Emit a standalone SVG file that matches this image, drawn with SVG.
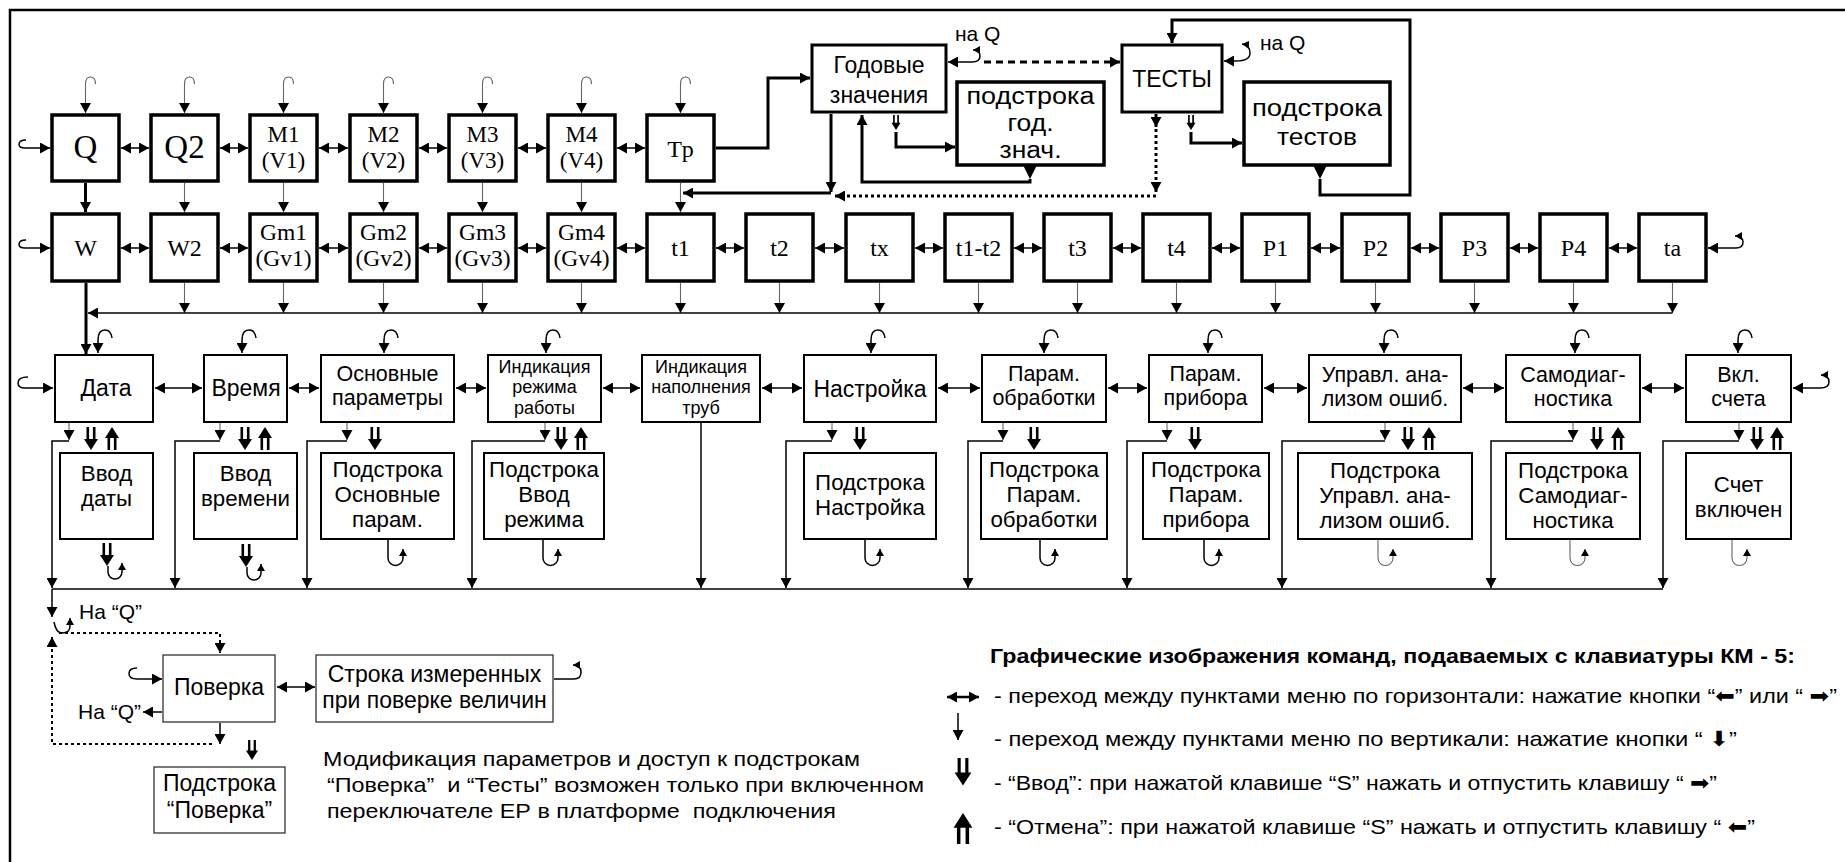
<svg xmlns="http://www.w3.org/2000/svg" xmlns:xlink="http://www.w3.org/1999/xlink" width="1845" height="862" viewBox="0 0 1845 862">
<style>
.b1{fill:#fff;stroke:#000;stroke-width:3.5}
.b2{fill:#fff;stroke:#000;stroke-width:2}
.b3{fill:#fff;stroke:#222;stroke-width:1.2}
.tm{font-family:"Liberation Serif","Times New Roman",serif;text-anchor:middle;fill:#000}
.ar{font-family:"Liberation Sans",Arial,sans-serif;text-anchor:middle;fill:#000;font-size:23px}
.r3{font-size:21.5px}
.r4{font-size:22.3px}
.sm{font-size:18px}
.lg{font-family:"Liberation Sans",Arial,"DejaVu Sans",sans-serif;fill:#000;font-size:21px}
.ln{fill:none;stroke:#000;stroke-width:1.5}
.gr{fill:none;stroke:#666;stroke-width:1.1}
.tk{fill:none;stroke:#000;stroke-width:3}
.da{stroke-dasharray:7 5}
.dt{stroke-dasharray:3 3}
.ma{marker-end:url(#ah)}
.mb{marker-start:url(#ah);marker-end:url(#ah)}
.ms{marker-end:url(#as)}
</style>
<defs>
<marker id="ah" viewBox="0 0 10 10" refX="10" refY="5" markerWidth="10" markerHeight="11" markerUnits="userSpaceOnUse" orient="auto-start-reverse" preserveAspectRatio="none"><path d="M0,0L10,5L0,10z" fill="#000"/></marker>
<marker id="as" viewBox="0 0 10 10" refX="10" refY="5" markerWidth="7" markerHeight="8" markerUnits="userSpaceOnUse" orient="auto-start-reverse" preserveAspectRatio="none"><path d="M0,0L10,5L0,10z" fill="#000"/></marker>
<g id="dn"><path d="M-3.2,0V14M3.2,0V14" stroke="#000" stroke-width="2.6" fill="none"/><path d="M-7,12H7L0,23z" fill="#000"/></g>
<g id="up"><path d="M-3.2,9V23M3.2,9V23" stroke="#000" stroke-width="2.6" fill="none"/><path d="M-7,11H7L0,0z" fill="#000"/></g>
</defs>
<rect x="0" y="0" width="1845" height="862" fill="#fff"/>
<path d="M10,862V10H1845" fill="none" stroke="#000" stroke-width="2.5"/>

<!-- Row 1 -->
<g id="n-Q"><rect class="b1" x="52" y="115" width="67" height="66"/><text class="tm" x="85.5" y="158" font-size="33">Q</text></g>
<g id="n-Q2"><rect class="b1" x="151" y="115" width="67" height="66"/><text class="tm" x="184.5" y="158" font-size="33">Q2</text></g>
<g id="n-M1"><rect class="b1" x="250" y="115" width="67" height="66"/><text class="tm" x="283.5" y="142" font-size="23">M1</text><text class="tm" x="283.5" y="168" font-size="23">(V1)</text></g>
<g id="n-M2"><rect class="b1" x="350" y="115" width="67" height="66"/><text class="tm" x="383.5" y="142" font-size="23">M2</text><text class="tm" x="383.5" y="168" font-size="23">(V2)</text></g>
<g id="n-M3"><rect class="b1" x="449" y="115" width="67" height="66"/><text class="tm" x="482.5" y="142" font-size="23">M3</text><text class="tm" x="482.5" y="168" font-size="23">(V3)</text></g>
<g id="n-M4"><rect class="b1" x="548" y="115" width="67" height="66"/><text class="tm" x="581.5" y="142" font-size="23">M4</text><text class="tm" x="581.5" y="168" font-size="23">(V4)</text></g>
<g id="n-Tp"><rect class="b1" x="647" y="115" width="67" height="66"/><text class="tm" x="680.5" y="157" font-size="24">Tp</text></g>

<!-- Row 2 -->
<g id="n-W"><rect class="b1" x="52" y="214" width="67" height="67"/><text class="tm" x="85.5" y="256" font-size="24">W</text></g>
<g id="n-W2"><rect class="b1" x="151" y="214" width="67" height="67"/><text class="tm" x="184.5" y="256" font-size="24">W2</text></g>
<g id="n-Gm1"><rect class="b1" x="250" y="214" width="67" height="67"/><text class="tm" x="283.5" y="240" font-size="23.5">Gm1</text><text class="tm" x="283.5" y="266" font-size="23.5">(Gv1)</text></g>
<g id="n-Gm2"><rect class="b1" x="350" y="214" width="67" height="67"/><text class="tm" x="383.5" y="240" font-size="23.5">Gm2</text><text class="tm" x="383.5" y="266" font-size="23.5">(Gv2)</text></g>
<g id="n-Gm3"><rect class="b1" x="449" y="214" width="67" height="67"/><text class="tm" x="482.5" y="240" font-size="23.5">Gm3</text><text class="tm" x="482.5" y="266" font-size="23.5">(Gv3)</text></g>
<g id="n-Gm4"><rect class="b1" x="548" y="214" width="67" height="67"/><text class="tm" x="581.5" y="240" font-size="23.5">Gm4</text><text class="tm" x="581.5" y="266" font-size="23.5">(Gv4)</text></g>
<g id="n-t1"><rect class="b1" x="647" y="214" width="67" height="67"/><text class="tm" x="680.5" y="256" font-size="24">t1</text></g>
<g id="n-t2"><rect class="b1" x="746" y="214" width="67" height="67"/><text class="tm" x="779.5" y="256" font-size="24">t2</text></g>
<g id="n-tx"><rect class="b1" x="846" y="214" width="67" height="67"/><text class="tm" x="879.5" y="256" font-size="24">tx</text></g>
<g id="n-t1t2"><rect class="b1" x="945" y="214" width="67" height="67"/><text class="tm" x="978.5" y="256" font-size="24">t1-t2</text></g>
<g id="n-t3"><rect class="b1" x="1044" y="214" width="67" height="67"/><text class="tm" x="1077.5" y="256" font-size="24">t3</text></g>
<g id="n-t4"><rect class="b1" x="1143" y="214" width="67" height="67"/><text class="tm" x="1176.5" y="256" font-size="24">t4</text></g>
<g id="n-P1"><rect class="b1" x="1242" y="214" width="67" height="67"/><text class="tm" x="1275.5" y="256" font-size="24">P1</text></g>
<g id="n-P2"><rect class="b1" x="1342" y="214" width="67" height="67"/><text class="tm" x="1375.5" y="256" font-size="24">P2</text></g>
<g id="n-P3"><rect class="b1" x="1441" y="214" width="67" height="67"/><text class="tm" x="1474.5" y="256" font-size="24">P3</text></g>
<g id="n-P4"><rect class="b1" x="1540" y="214" width="67" height="67"/><text class="tm" x="1573.5" y="256" font-size="24">P4</text></g>
<g id="n-ta"><rect class="b1" x="1639" y="214" width="67" height="67"/><text class="tm" x="1672.5" y="256" font-size="24">ta</text></g>

<!-- Top right -->
<g id="n-god"><rect class="tk" fill="#fff" x="812" y="45" width="134" height="67"/><text class="ar" x="879" y="73" font-size="26.5">Годовые</text><text class="ar" x="879" y="103" font-size="26.5">значения</text></g>
<g id="n-podgod"><rect class="b1" x="957" y="82" width="147" height="83"/><text class="ar" x="1030.5" y="104" font-size="24" textLength="128" lengthAdjust="spacingAndGlyphs">подстрока</text><text class="ar" x="1030.5" y="131" font-size="24" textLength="46" lengthAdjust="spacingAndGlyphs">год.</text><text class="ar" x="1030.5" y="158" font-size="24" textLength="62" lengthAdjust="spacingAndGlyphs">знач.</text></g>
<g id="n-tests"><rect class="tk" fill="#fff" x="1122" y="45" width="100" height="67"/><text class="ar" x="1172" y="87" font-size="25">ТЕСТЫ</text></g>
<g id="n-podtest"><rect class="b1" x="1244" y="82" width="146" height="83"/><text class="ar" x="1317" y="116" font-size="25" textLength="130" lengthAdjust="spacingAndGlyphs">подстрока</text><text class="ar" x="1317" y="145" font-size="25" textLength="80" lengthAdjust="spacingAndGlyphs">тестов</text></g>

<!-- Row 3 -->
<g id="n-data"><rect class="b2" x="55" y="355" width="98" height="67"/><text class="ar" x="106" y="396">Дата</text></g>
<g id="n-vremya"><rect class="b2" x="204" y="355" width="83" height="67"/><text class="ar" x="246" y="396">Время</text></g>
<g id="n-osn"><rect class="b2" x="321" y="355" width="133" height="67"/><text class="ar r3" x="387.5" y="381">Основные</text><text class="ar r3" x="387.5" y="405">параметры</text></g>
<g id="n-indrez"><rect class="b2" x="488" y="355" width="113" height="67"/><text class="ar sm" x="544.5" y="372.5">Индикация</text><text class="ar sm" x="544.5" y="393">режима</text><text class="ar sm" x="544.5" y="413.5">работы</text></g>
<g id="n-indnap"><rect class="b2" x="642" y="355" width="118" height="67"/><text class="ar sm" x="701" y="372.5">Индикация</text><text class="ar sm" x="701" y="393">наполнения</text><text class="ar sm" x="701" y="413.5">труб</text></g>
<g id="n-nastr"><rect class="b2" x="804" y="355" width="132" height="67"/><text class="ar" x="870" y="397">Настройка</text></g>
<g id="n-parobr"><rect class="b2" x="982" y="355" width="124" height="67"/><text class="ar r3" x="1044" y="381">Парам.</text><text class="ar r3" x="1044" y="405">обработки</text></g>
<g id="n-parpr"><rect class="b2" x="1149" y="355" width="113" height="67"/><text class="ar r3" x="1205.5" y="381">Парам.</text><text class="ar r3" x="1205.5" y="405">прибора</text></g>
<g id="n-upr"><rect class="b2" x="1309" y="355" width="152" height="67"/><text class="ar r3" x="1385" y="382">Управл. ана-</text><text class="ar r3" x="1385" y="406">лизом ошиб.</text></g>
<g id="n-samod"><rect class="b2" x="1506" y="355" width="134" height="67"/><text class="ar r3" x="1573" y="382">Самодиаг-</text><text class="ar r3" x="1573" y="406">ностика</text></g>
<g id="n-vkl"><rect class="b2" x="1686" y="355" width="105" height="67"/><text class="ar r3" x="1738.5" y="382">Вкл.</text><text class="ar r3" x="1738.5" y="406">счета</text></g>

<!-- Row 4 -->
<g id="n-vvdat"><rect class="b2" x="60" y="453" width="93" height="86"/><text class="ar r4" x="106.5" y="481">Ввод</text><text class="ar r4" x="106.5" y="506">даты</text></g>
<g id="n-vvvr"><rect class="b2" x="194" y="453" width="103" height="86"/><text class="ar r4" x="245.5" y="481">Ввод</text><text class="ar r4" x="245.5" y="506">времени</text></g>
<g id="n-posn"><rect class="b2" x="321" y="453" width="133" height="86"/><text class="ar r4" x="387.5" y="477">Подстрока</text><text class="ar r4" x="387.5" y="502">Основные</text><text class="ar r4" x="387.5" y="527">парам.</text></g>
<g id="n-pvvr"><rect class="b2" x="484" y="453" width="120" height="86"/><text class="ar r4" x="544" y="477">Подстрока</text><text class="ar r4" x="544" y="502">Ввод</text><text class="ar r4" x="544" y="527">режима</text></g>
<g id="n-pnastr"><rect class="b2" x="804" y="453" width="132" height="86"/><text class="ar r4" x="870" y="490">Подстрока</text><text class="ar r4" x="870" y="515">Настройка</text></g>
<g id="n-pparobr"><rect class="b2" x="981" y="453" width="126" height="86"/><text class="ar r4" x="1044" y="477">Подстрока</text><text class="ar r4" x="1044" y="502">Парам.</text><text class="ar r4" x="1044" y="527">обработки</text></g>
<g id="n-pparpr"><rect class="b2" x="1143" y="453" width="126" height="86"/><text class="ar r4" x="1206" y="477">Подстрока</text><text class="ar r4" x="1206" y="502">Парам.</text><text class="ar r4" x="1206" y="527">прибора</text></g>
<g id="n-pupr"><rect class="b2" x="1298" y="453" width="174" height="86"/><text class="ar r4" x="1385" y="478">Подстрока</text><text class="ar r4" x="1385" y="503">Управл. ана-</text><text class="ar r4" x="1385" y="528">лизом ошиб.</text></g>
<g id="n-psamod"><rect class="b2" x="1506" y="453" width="134" height="86"/><text class="ar r4" x="1573" y="478">Подстрока</text><text class="ar r4" x="1573" y="503">Самодиаг-</text><text class="ar r4" x="1573" y="528">ностика</text></g>
<g id="n-schet"><rect class="b2" x="1686" y="453" width="105" height="86"/><text class="ar r4" x="1738.5" y="492">Счет</text><text class="ar r4" x="1738.5" y="517">включен</text></g>

<!-- Poverka -->
<g id="n-pov"><rect class="b3" x="163" y="655" width="112" height="67"/><text class="ar" x="219" y="695">Поверка</text></g>
<g id="n-stroka"><rect class="b3" x="316" y="655" width="237" height="67"/><text class="ar" x="434.5" y="682">Строка измеренных</text><text class="ar" x="434.5" y="708">при поверке величин</text></g>
<g id="n-ppov"><rect class="b3" x="154" y="767" width="131" height="66"/><text class="ar" x="219.5" y="791">Подстрока</text><text class="ar" x="219.5" y="818">“Поверка”</text></g>

<!-- Connectors -->
<g id="connectors">
<g class="gr ma">
<path d="M95.5,84Q95.5,77 90.5,77Q85.5,77 85.5,84V113"/>
<path d="M194.5,84Q194.5,77 189.5,77Q184.5,77 184.5,84V113"/>
<path d="M293.5,84Q293.5,77 288.5,77Q283.5,77 283.5,84V113"/>
<path d="M393.5,84Q393.5,77 388.5,77Q383.5,77 383.5,84V113"/>
<path d="M492.5,84Q492.5,77 487.5,77Q482.5,77 482.5,84V113"/>
<path d="M591.5,84Q591.5,77 586.5,77Q581.5,77 581.5,84V113"/>
<path d="M690.5,84Q690.5,77 685.5,77Q680.5,77 680.5,84V113"/>
<path d="M184.5,183V212"/><path d="M283.5,183V212"/><path d="M383.5,183V212"/><path d="M482.5,183V212"/><path d="M581.5,183V212"/><path d="M680.5,183V212"/>
<path d="M184.5,283V313"/><path d="M283.5,283V313"/><path d="M383.5,283V313"/><path d="M482.5,283V313"/><path d="M581.5,283V313"/><path d="M680.5,283V313"/><path d="M779.5,283V313"/><path d="M879.5,283V313"/><path d="M978.5,283V313"/><path d="M1077.5,283V313"/><path d="M1176.5,283V313"/><path d="M1275.5,283V313"/><path d="M1375.5,283V313"/><path d="M1474.5,283V313"/><path d="M1573.5,283V313"/><path d="M1672.5,283V313"/>
</g>
<g class="ln mb">
<path d="M121,148H149"/><path d="M220,148H248"/><path d="M319,148H348"/><path d="M419,148H447"/><path d="M518,148H546"/><path d="M617,148H645"/>
<path d="M121,248H149"/><path d="M220,248H248"/><path d="M319,248H348"/><path d="M419,248H447"/><path d="M518,248H546"/><path d="M617,248H645"/><path d="M716,248H744"/><path d="M815,248H844"/><path d="M915,248H943"/><path d="M1014,248H1042"/><path d="M1113,248H1141"/><path d="M1212,248H1240"/><path d="M1311,248H1340"/><path d="M1411,248H1439"/><path d="M1510,248H1538"/><path d="M1609,248H1637"/>
</g>
<g class="ln ma">
<path d="M26,140Q19,140 19,144.5Q19,148 25,148H50"/>
<path d="M26,240Q19,240 19,244.5Q19,248 25,248H50"/>
<path d="M1736,248H1708"/>
<path d="M1672.5,313H88"/>
</g>
<path class="ln ms" d="M1736,248Q1743,248 1743,242Q1743,236 1735,236"/>
<path class="tk ma" d="M85.5,183V212"/>
<path class="tk ma" d="M86,283V354"/>
<path class="tk ma" d="M716,148H768V78H810"/>
<path class="tk ma" d="M831,114V192"/>
<path class="tk ma" d="M831,193H683"/>
<path class="tk ma" d="M896,132V147H955"/>
<path d="M1023.5,166H1036.5L1030,179z" fill="#000"/>
<path class="tk ma" d="M1030,179V182H862V115"/>
<path class="ln ma" d="M972,62H948"/>
<path class="ln ms" d="M972,62Q980,62 980,56Q980,50 973,50"/>
<path class="tk da ma" d="M984,62H1120"/>
<path class="ln ma" d="M1236,61H1224"/>
<path class="ln ms" d="M1236,61Q1250,61 1250,53Q1250,45 1242,44"/>
<path class="tk ma" d="M1156,114V127"/>
<path class="tk dt ma" d="M1156,129V192"/>
<path class="tk dt ma" d="M1156,196H835"/>
<path class="tk ma" d="M1191,132V143H1242"/>
<path d="M1313.5,166H1326.5L1320,179z" fill="#000"/>
<path class="tk ma" d="M1320,179V195H1410V20H1172V43"/>
<g class="ln ma">
<path d="M112,338Q111,330 105,330Q98,330 98,340V353"/>
<path d="M256,338Q255,330 249,330Q242,330 242,340V353"/>
<path d="M398,338Q397,330 391,330Q384,330 384,340V353"/>
<path d="M560,338Q559,330 553,330Q546,330 546,340V353"/>
<path d="M885,338Q884,330 878,330Q871,330 871,340V353"/>
<path d="M1058,338Q1057,330 1051,330Q1044,330 1044,340V353"/>
<path d="M1222,338Q1221,330 1215,330Q1208,330 1208,340V353"/>
<path d="M1398,338Q1397,330 1391,330Q1384,330 1384,340V353"/>
<path d="M1589,338Q1588,330 1582,330Q1575,330 1575,340V353"/>
<path d="M1752,338Q1751,330 1745,330Q1738,330 1738,340V353"/>
</g>
<g class="ln mb">
<path d="M155,388H202"/><path d="M289,388H319"/><path d="M456,388H486"/><path d="M603,388H640"/><path d="M762,388H802"/><path d="M938,388H980"/><path d="M1108,388H1147"/><path d="M1264,388H1307"/><path d="M1463,388H1504"/><path d="M1642,388H1684"/>
</g>
<path class="ln ma" d="M28,377Q18,377 18,383Q18,388 25,388H53"/>
<path class="ln ma" d="M1820,388H1793"/>
<path class="ln ms" d="M1820,388Q1829,388 1829,382Q1829,375 1821,375"/>
<g class="gr ma">
<path d="M69,423V440"/><path d="M220,423V440"/><path d="M347,423V440"/><path d="M545,423V440"/><path d="M832,423V440"/><path d="M1003,423V440"/><path d="M1167,423V440"/><path d="M1385,423V440"/><path d="M1573,423V440"/><path d="M1739,423V440"/>
</g>
<g class="ln ma">
<path d="M69,441H52V588"/><path d="M220,441H175V588"/><path d="M347,441H307V588"/><path d="M545,441H472V588"/><path d="M701,423V588"/><path d="M832,441H786V588"/><path d="M1003,441H968V588"/><path d="M1167,441H1127V588"/><path d="M1385,441H1282V588"/><path d="M1573,441H1491V588"/><path d="M1739,441H1663V588"/>
</g>
<path class="ln" d="M52,589H1663"/>
<g class="ln ms">
<path d="M108,566V572A7,7 0 0 0 122,572V563"/>
<path d="M247,567V573A7,7 0 0 0 261,573V564"/>
<path d="M388,540V558A7.5,7.5 0 0 0 403,558V549"/>
<path d="M543,540V558A7.5,7.5 0 0 0 558,558V549"/>
<path d="M865,540V558A7.5,7.5 0 0 0 880,558V549"/>
<path d="M1040,540V558A7.5,7.5 0 0 0 1055,558V549"/>
<path d="M1204,540V558A7.5,7.5 0 0 0 1219,558V549"/>
</g>
<g class="gr ms">
<path d="M1378,540V558A7.5,7.5 0 0 0 1393,558V549"/>
<path d="M1570,540V558A7.5,7.5 0 0 0 1585,558V549"/>
<path d="M1732,540V558A7.5,7.5 0 0 0 1747,558V549"/>
</g>
<use href="#dn" x="91" y="427"/><use href="#up" x="112" y="427"/>
<use href="#dn" x="245" y="427"/><use href="#up" x="265" y="427"/>
<use href="#dn" x="375" y="427"/>
<use href="#dn" x="561" y="427"/><use href="#up" x="581" y="427"/>
<use href="#dn" x="860" y="427"/>
<use href="#dn" x="1034" y="427"/>
<use href="#dn" x="1195" y="427"/>
<use href="#dn" x="1408" y="427"/><use href="#up" x="1429" y="427"/>
<use href="#dn" x="1597" y="427"/><use href="#up" x="1618" y="427"/>
<use href="#dn" x="1757" y="427"/><use href="#up" x="1777" y="427"/>
<use href="#dn" x="107" y="543"/>
<use href="#dn" x="246" y="544"/>
<use href="#dn" transform="translate(896,115) scale(0.65)"/>
<use href="#dn" transform="translate(1191,115) scale(0.65)"/>
<use href="#dn" transform="translate(252,740) scale(0.87)"/>
<path class="ln ma" d="M52,589V617"/>
<path class="ln ms" d="M54,622Q56,633 62,633Q70,633 70,626V618"/>
<path class="ln dt ma" style="stroke-width:2" d="M59,633H220V653"/>
<path class="ln ma" d="M220,723V744"/>
<path class="ln dt ma" style="stroke-width:2" d="M212,744H52V637"/>
<path class="ln ma" d="M137,668Q129,668 129,673.5Q129,679 137,679H162"/>
<path class="ln ma" d="M162,712H143"/>
<path class="ln mb" d="M277,687H315"/>
<path class="ln ms" d="M554,679H574Q581,679 581,672Q581,665 573,665"/>
</g>

<g id="labels">
<text class="lg" x="955" y="41" font-size="20">на Q</text>
<text class="lg" x="1260" y="50" font-size="20">на Q</text>
<text class="lg" x="79" y="619" font-size="21">На “Q”</text>
<text class="lg" x="141" y="719" font-size="21" text-anchor="end">На “Q”</text>
<text class="lg" x="323" y="766" font-size="22" textLength="537" lengthAdjust="spacingAndGlyphs">Модификация параметров и доступ к подстрокам</text>
<text class="lg" x="327" y="792" font-size="22" textLength="597" lengthAdjust="spacingAndGlyphs" xml:space="preserve">“Поверка”  и “Тесты” возможен только при включенном</text>
<text class="lg" x="327" y="818" font-size="22" textLength="509" lengthAdjust="spacingAndGlyphs" xml:space="preserve">переключателе ЕР в платформе  подключения</text>
</g>

<g id="legend">
<text class="lg" x="990" y="663" font-weight="bold" textLength="805" lengthAdjust="spacingAndGlyphs">Графические изображения команд, подаваемых с клавиатуры КМ - 5:</text>
<path d="M947,697H979" stroke="#000" stroke-width="2.5" fill="none" marker-start="url(#ah)" marker-end="url(#ah)"/>
<text class="lg" x="994" y="703" textLength="843" lengthAdjust="spacingAndGlyphs">- переход между пунктами меню по горизонтали: нажатие кнопки “⬅” или “ ➡”</text>
<path class="ln ma" d="M958,713V740"/>
<text class="lg" x="994" y="746" textLength="743" lengthAdjust="spacingAndGlyphs">- переход между пунктами меню по вертикали: нажатие кнопки “ ⬇”</text>
<use href="#dn" transform="translate(963,758) scale(1.2)"/>
<text class="lg" x="994" y="790" textLength="723" lengthAdjust="spacingAndGlyphs">- “Ввод”: при нажатой клавише “S” нажать и отпустить клавишу “ ➡”</text>
<use href="#up" transform="translate(963,813) scale(1.35)"/>
<text class="lg" x="994" y="834" textLength="761" lengthAdjust="spacingAndGlyphs">- “Отмена”: при нажатой клавише “S” нажать и отпустить клавишу “ ⬅”</text>
</g>
</svg>
